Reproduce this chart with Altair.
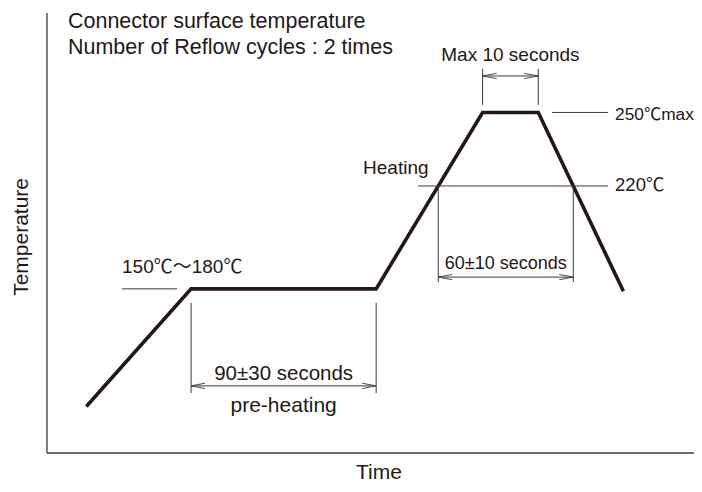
import altair as alt
import pandas as pd

# ---- data: reflow profile (time in arbitrary units, temperature in °C) ----
TIME = [24, 88, 201, 266, 300, 352]
TEMP = [130, 178, 178, 250, 250, 177]

LIQUIDUS = 220
PEAK = 250

TITLE_1 = "Connector surface temperature"
TITLE_2 = "Number of Reflow cycles : 2 times"
LBL_PEAK_TIME = "Max 10 seconds"
LBL_PEAK = "250℃max"
LBL_LIQ = "220℃"
LBL_HEAT = "Heating"
LBL_LIQ_TIME = "60±10 seconds"
LBL_PRE_RANGE = "150℃～180℃"
LBL_PRE_TIME = "90±30 seconds"
LBL_PRE = "pre-heating"
X_TITLE = "Time"
Y_TITLE = "Temperature"

INK = "#231815"
THIN = "#3e3a39"
FONT = "Liberation Sans, Arial, Noto Sans CJK JP"

X_DOMAIN = [0, 395.1]
Y_DOMAIN = [111, 290.6]

df = pd.DataFrame({"time": TIME, "temp": TEMP})
ONE = pd.DataFrame({"k": [0]})

XS = alt.Scale(domain=X_DOMAIN, nice=False, zero=False)
YS = alt.Scale(domain=Y_DOMAIN, nice=False, zero=False)


def cross(level, i):
    """time where segment i -> i+1 of the profile crosses a temperature level"""
    t0, t1, v0, v1 = TIME[i], TIME[i + 1], TEMP[i], TEMP[i + 1]
    return t0 + (level - v0) / (v1 - v0) * (t1 - t0)


t_up = cross(LIQUIDUS, 2)
t_dn = cross(LIQUIDUS, 4)


def X(v):
    return alt.XDatum(v, scale=XS, axis=None)


def Y(v):
    return alt.YDatum(v, scale=YS, axis=None)


def hline(t0, t1, v, w=1.0, color=THIN):
    return alt.Chart(ONE).mark_rule(color=color, strokeWidth=w).encode(
        x=X(t0), x2=alt.X2Datum(t1), y=Y(v))


def vline(t, v0, v1, w=1.0, color=THIN):
    return alt.Chart(ONE).mark_rule(color=color, strokeWidth=w).encode(
        x=X(t), y=Y(v0), y2=alt.Y2Datum(v1))


ARROW = "M 2 -0.38 L 0 0 L 2 0.38"


def head(t, v, ang):
    return alt.Chart(ONE).mark_point(shape=ARROW, filled=False, size=196, color=THIN,
                                     strokeWidth=0.9, opacity=1, angle=ang).encode(
        x=X(t), y=Y(v))


def dim(t0, t1, v):
    return [hline(t0, t1, v), head(t0, v, 0), head(t1, v, 180)]


def label(txt, t, v, size, align="left", angle=0):
    return alt.Chart(ONE).mark_text(text=txt, font=FONT, fontSize=size, color=INK,
                                    align=align, baseline="alphabetic", angle=angle).encode(
        x=X(t), y=Y(v))


profile = alt.Chart(df).mark_line(color=INK, strokeWidth=3.6, strokeJoin="miter",
                                  strokeCap="butt").encode(
    x=alt.X("time:Q", scale=XS, axis=None),
    y=alt.Y("temp:Q", scale=YS, axis=None),
    order="time:Q",
)

pre_t0, pre_t1 = TIME[1], TIME[2]
pk_t0, pk_t1 = TIME[3], TIME[4]

layers = [
    # axis lines
    hline(X_DOMAIN[0], X_DOMAIN[1], Y_DOMAIN[0], 1.3),
    vline(X_DOMAIN[0], Y_DOMAIN[0], Y_DOMAIN[1], 1.3),
    profile,
    # 150-180 label line
    hline(45.8, 79.4, TEMP[1]),
    # liquidus and peak reference lines
    hline(226.6, 342.6, LIQUIDUS),
    hline(308.4, 342.6, PEAK),
    # pre-heating dimension
    vline(pre_t0, 172.3, 135.5), vline(pre_t1, 172.3, 135.5),
    *dim(pre_t0, pre_t1, 138.4),
    # time above liquidus
    vline(t_up, LIQUIDUS, 180.8), vline(t_dn, LIQUIDUS, 180.8),
    *dim(t_up, t_dn, 182.8),
    # peak time
    vline(pk_t0, 253.1, 267.8), vline(pk_t1, 253.1, 267.8),
    *dim(pk_t0, pk_t1, 264.9),
    # texts
    label(TITLE_1, 12.8, 284.5, 21.5),
    label(TITLE_2, 12.8, 273.9, 21.5),
    label(LBL_PEAK_TIME, (pk_t0 + pk_t1) / 2, 271.0, 19, "center"),
    label(LBL_PEAK, 346.9, 247.1, 17.3),
    label(LBL_LIQ, 346.9, 218.0, 18.5),
    label(LBL_HEAT, 193.0, 224.9, 19),
    label(LBL_LIQ_TIME, (t_up + t_dn) / 2, 186.1, 18, "center"),
    label(LBL_PRE_RANGE, 45.8, 184.5, 19),
    label(LBL_PRE_TIME, (pre_t0 + pre_t1) / 2, 140.8, 20.5, "center"),
    label(LBL_PRE, (pre_t0 + pre_t1) / 2, 127.7, 21, "center"),
    # axis titles
    label(X_TITLE, 202.7, 100.4, 21, "center"),
    label(Y_TITLE, -11.6, 199.2, 21, "center", 270),
]

chart = alt.layer(*layers).properties(
    width=647, height=440,
    autosize=alt.AutoSizeParams(type="none"),
    padding={"left": 39, "top": 5, "right": 0, "bottom": 31},
    background="white",
).configure_view(stroke=None)

chart.save("out.html", embed_options={"renderer": "svg", "actions": False})
